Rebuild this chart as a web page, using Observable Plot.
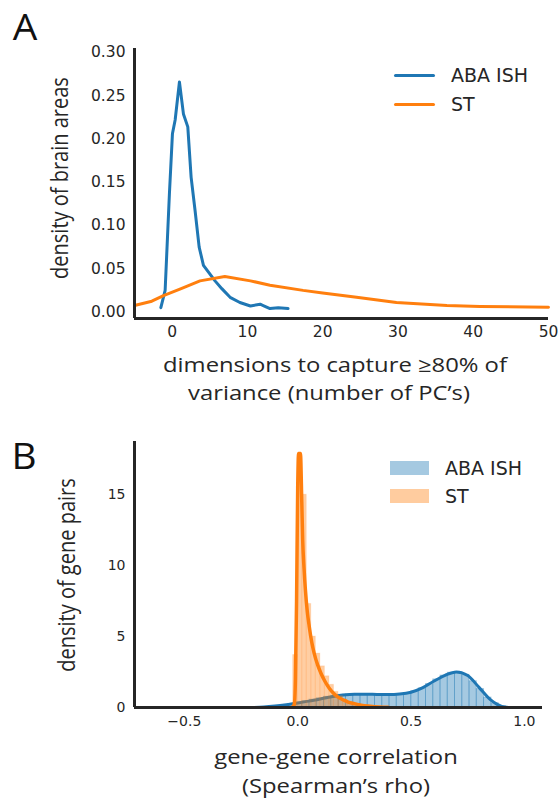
<!DOCTYPE html>
<html><head><meta charset="utf-8">
<script src="https://cdn.jsdelivr.net/npm/d3@7"></script>
<script src="https://cdn.jsdelivr.net/npm/@observablehq/plot@0.6"></script>
<style>
body{margin:0;background:#fff;}
#wrap{position:relative;width:560px;height:801px;overflow:hidden;background:#fff;color:#262626;}
.plot{position:absolute;left:0;}
.lab{position:absolute;font-family:"Open Sans",sans-serif;font-size:20px;white-space:nowrap;line-height:1;transform:translate(-50%,-50%) scaleX(1.19);color:#262626;}
.rot{transform:translate(-50%,-50%) rotate(-90deg) scaleY(1.19);}
.letter{position:absolute;font-family:"Open Sans",sans-serif;font-size:37px;line-height:1;transform:translate(-50%,-50%) scaleX(1.05);color:#111;}
.leg{position:absolute;font-family:"DejaVu Sans",sans-serif;font-size:19px;line-height:1;transform:translateY(-50%);color:#262626;white-space:nowrap;}
.sw{position:absolute;}
</style></head><body><div id="wrap"></div>
<script>
// ---------- Panel A data (KDE curves) ----------
const seriesNames = ["ABA ISH", "ST"];
const colors = ["#1f77b4", "#ff7f0e"];

const abaA_x = [-1.5, -0.93, -0.36, 0.04, 0.4, 0.97, 1.5, 2.08, 2.52, 3.05, 3.59, 4.16, 4.83, 5.7, 6.6, 7.7, 9.0, 10.4, 11.7, 12.1, 13.0, 14.1, 15.4];
const abaA_y = [0.005, 0.025, 0.137, 0.206, 0.222, 0.266, 0.229, 0.214, 0.156, 0.117, 0.075, 0.054, 0.046, 0.036, 0.027, 0.017, 0.011, 0.007, 0.009, 0.0075, 0.004, 0.005, 0.004];

const stA_x = [-5, -2.7, -1.15, 1.2, 3.7, 7.0, 10.4, 13.0, 17.4, 20.0, 24.5, 29.8, 36.5, 40.9, 50];
const stA_y = [0.0075, 0.0125, 0.019, 0.027, 0.036, 0.041, 0.036, 0.031, 0.025, 0.022, 0.017, 0.011, 0.0075, 0.0064, 0.0056];

const xTicksA = [0, 10, 20, 30, 40, 50];
const yTicksA = [0, 0.05, 0.10, 0.15, 0.20, 0.25, 0.30];

// ---------- Panel B data ----------
// ABA ISH histogram: bin edges and densities
const abaB_edges = [-0.076, -0.044, -0.012, 0.020, 0.052, 0.084, 0.116, 0.148, 0.181, 0.213, 0.245, 0.277, 0.309, 0.341, 0.373, 0.405, 0.437, 0.469, 0.501, 0.534, 0.566, 0.598, 0.630, 0.662, 0.694, 0.726, 0.758, 0.790, 0.822, 0.855, 0.887, 0.919];
const abaB_h = [0.15, 0.25, 0.35, 0.45, 0.55, 0.65, 0.75, 0.83, 0.90, 0.93, 0.94, 0.94, 0.93, 0.92, 0.91, 0.92, 0.95, 1.02, 1.15, 1.35, 1.65, 1.98, 2.25, 2.45, 2.50, 2.30, 1.85, 1.30, 0.70, 0.30, 0.08];

// ST histogram
const stB_edges = [-0.02, 0.00, 0.02, 0.04, 0.06, 0.08, 0.10, 0.12, 0.14, 0.16, 0.18, 0.20, 0.22, 0.24, 0.26, 0.28, 0.30, 0.32, 0.34, 0.36];
const stB_h = [3.7, 17.6, 15.0, 7.3, 5.0, 3.8, 2.9, 2.2, 1.6, 1.1, 0.8, 0.55, 0.4, 0.3, 0.2, 0.15, 0.1, 0.07, 0.05];

// KDE curves
const abaB_kx = [-0.20, -0.15, -0.10, -0.05, 0.00, 0.05, 0.10, 0.15, 0.20, 0.25, 0.30, 0.35, 0.40, 0.45, 0.50, 0.55, 0.60, 0.65, 0.70, 0.75, 0.80, 0.85, 0.88, 0.90, 0.93];
const abaB_ky = [0.0, 0.03, 0.10, 0.20, 0.32, 0.45, 0.60, 0.76, 0.88, 0.94, 0.94, 0.92, 0.91, 0.95, 1.08, 1.38, 1.85, 2.27, 2.51, 2.25, 1.42, 0.55, 0.22, 0.08, 0.0];

const stB_kx = [-0.022, -0.015, -0.010, -0.005, 0.000, 0.004, 0.012, 0.018, 0.022, 0.028, 0.034, 0.042, 0.051, 0.062, 0.073, 0.088, 0.103, 0.12, 0.14, 0.158, 0.176, 0.20, 0.22, 0.25, 0.28, 0.32, 0.36, 0.40];
const stB_ky = [0.05, 0.2, 2.0, 7.5, 15.5, 17.9, 17.9, 14.5, 11.8, 9.8, 8.3, 6.8, 5.7, 4.6, 3.8, 3.0, 2.4, 1.85, 1.34, 1.0, 0.75, 0.55, 0.4, 0.27, 0.16, 0.09, 0.04, 0.01];

const xTicksB = [-0.5, 0, 0.5, 1.0];
const yTicksB = [0, 5, 10, 15];

// ---------- helpers ----------
const pts = (xs, ys) => xs.map((x, i) => ({x, y: ys[i]}));
const bins = (edges, hs) => hs.map((h, i) => ({x1: edges[i], x2: edges[i + 1], h}));
const axisColor = "#262626";

const wrap = document.getElementById("wrap");

// ---------- Panel A ----------
const xDomA = [-5, 50], yDomA = [-0.0075, 0.3046];
const plotA = Plot.plot({
  width: 560, height: 345,
  marginTop: 48, marginBottom: 27, marginLeft: 134, marginRight: 12,
  style: {fontFamily: "DejaVu Sans", fontSize: "15.5px", color: axisColor, background: "transparent"},
  x: {domain: xDomA, ticks: xTicksA, tickSize: 0, tickPadding: 7, label: null},
  y: {domain: yDomA, ticks: yTicksA, tickSize: 0, tickPadding: 9, tickFormat: ".2f", label: null},
  marks: [
    Plot.line(pts(abaA_x, abaA_y), {x: "x", y: "y", stroke: colors[0], strokeWidth: 3}),
    Plot.line(pts(stA_x, stA_y), {x: "x", y: "y", stroke: colors[1], strokeWidth: 3}),
    Plot.ruleX([xDomA[0]], {stroke: axisColor, strokeWidth: 3}),
    Plot.ruleY([yDomA[0]], {stroke: axisColor, strokeWidth: 3})
  ]
});
plotA.classList.add("plot");
plotA.style.top = "0px";
wrap.appendChild(plotA);

// ---------- Panel B ----------
const xDomB = [-0.72, 1.08], yDomB = [0, 18.75];
const plotB = Plot.plot({
  width: 560, height: 320,
  marginTop: 21, marginBottom: 33, marginLeft: 134, marginRight: 18,
  style: {fontFamily: "DejaVu Sans", fontSize: "14px", color: axisColor, background: "transparent"},
  x: {domain: xDomB, ticks: xTicksB, tickSize: 0, tickPadding: 9, tickFormat: ".1f", label: null},
  y: {domain: yDomB, ticks: yTicksB, tickSize: 0, tickPadding: 9, label: null},
  marks: [
    Plot.rectY(bins(abaB_edges, abaB_h), {x1: "x1", x2: "x2", y1: 0, y2: "h", fill: colors[0], fillOpacity: 0.4, stroke: colors[0], strokeOpacity: 0.3, strokeWidth: 1}),
    Plot.line(pts(abaB_kx, abaB_ky), {x: "x", y: "y", stroke: colors[0], strokeWidth: 3, curve: "monotone-x"}),
    Plot.rectY(bins(stB_edges, stB_h), {x1: "x1", x2: "x2", y1: 0, y2: "h", fill: colors[1], fillOpacity: 0.38, stroke: colors[1], strokeOpacity: 0.12, strokeWidth: 1}),
    Plot.line(pts(stB_kx, stB_ky), {x: "x", y: "y", stroke: colors[1], strokeWidth: 3.5, curve: "monotone-x"}),
    Plot.ruleX([xDomB[0]], {stroke: axisColor, strokeWidth: 3}),
    Plot.ruleY([yDomB[0]], {stroke: axisColor, strokeWidth: 3})
  ]
});
plotB.classList.add("plot");
plotB.style.top = "420px";
wrap.appendChild(plotB);

// ---------- Text: panel letters, axis labels ----------
function addDiv(cls, text, left, top) {
  const d = document.createElement("div");
  d.className = cls;
  d.textContent = text;
  d.style.left = left + "px";
  d.style.top = top + "px";
  wrap.appendChild(d);
  return d;
}
addDiv("letter", "A", 25, 25);
addDiv("letter", "B", 24, 454);

addDiv("lab rot", "density of brain areas", 60, 178);
addDiv("lab", "dimensions to capture \u226580% of", 335, 365);
addDiv("lab", "variance (number of PC\u2019s)", 329, 393);

addDiv("lab rot", "density of gene pairs", 67, 575);
addDiv("lab", "gene-gene correlation", 336, 757);
addDiv("lab", "(Spearman\u2019s rho)", 336, 786);

// ---------- Legends ----------
// Panel A: line swatches
[75, 104].forEach((cy, i) => {
  const s = document.createElement("div");
  s.className = "sw";
  s.style.cssText = `left:394px;top:${cy - 1.5}px;width:41px;height:3px;background:${colors[i]};border-radius:1.5px;`;
  wrap.appendChild(s);
  addDiv("leg", seriesNames[i], 451, cy);
});
// Panel B: patch swatches
[468, 496].forEach((cy, i) => {
  const s = document.createElement("div");
  s.className = "sw";
  s.style.cssText = `left:390px;top:${cy - 7}px;width:39px;height:14px;background:${colors[i]};opacity:0.4;`;
  wrap.appendChild(s);
  addDiv("leg", seriesNames[i], 445, cy);
});
</script>
</body></html>
